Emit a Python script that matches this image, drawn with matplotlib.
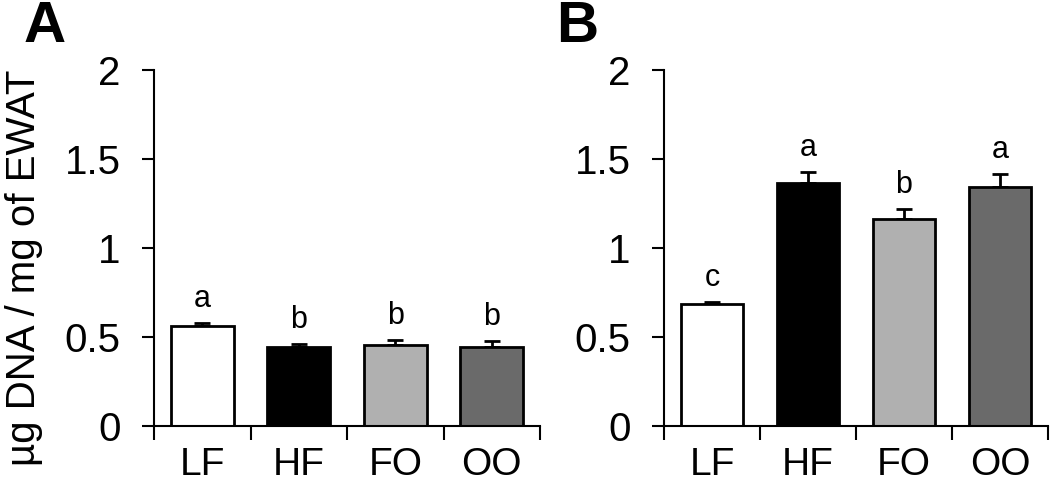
import matplotlib.pyplot as plt

plt.rcParams['font.family'] = ['Liberation Sans', 'DejaVu Sans']

groups = ['LF', 'HF', 'FO', 'OO']
colors = ['#ffffff', '#000000', '#b0b0b0', '#6a6a6a']

# panel A
mean_a = [0.56, 0.444, 0.455, 0.444]
err_a = [0.018, 0.016, 0.028, 0.034]
letters_a = ['a', 'b', 'b', 'b']

# panel B
mean_b = [0.685, 1.365, 1.163, 1.343]
err_b = [0.012, 0.062, 0.056, 0.073]
letters_b = ['c', 'a', 'b', 'a']

fig = plt.figure(figsize=(10.5, 4.83), dpi=100)
ax1 = fig.add_axes([0.1467, 0.118, 0.3676, 0.737])
ax2 = fig.add_axes([0.6324, 0.118, 0.3657, 0.737])


def draw(ax, means, errs, letters):
    x = list(range(len(groups)))
    ax.bar(x, means, width=0.65, color=colors, edgecolor='black', linewidth=2, zorder=2)
    ax.errorbar(x, means, yerr=[[0] * len(errs), errs], fmt='none', ecolor='black',
                elinewidth=2, capsize=6, capthick=2, zorder=1)
    for xi, m, e, l in zip(x, means, errs, letters):
        ax.text(xi, m + e + 0.09, l, ha='center', va='baseline', fontsize=22)
    ax.set_xlim(-0.5, 3.5)
    ax.set_ylim(0, 2)
    ax.set_yticks([0, 0.5, 1, 1.5, 2])
    ax.set_yticklabels(['0', '0.5', '1', '1.5', '2'], fontsize=29)
    ax.set_xticks(x)
    ax.set_xticklabels(groups, fontsize=28)
    ax.tick_params(axis='x', which='major', length=0, pad=15)
    ax.set_xticks([-0.5, 0.5, 1.5, 2.5, 3.5], minor=True)
    ax.tick_params(axis='x', which='minor', length=10, width=1.5, direction='out')
    ax.tick_params(axis='y', length=9, width=1.5, pad=15)
    for s in ['top', 'right']:
        ax.spines[s].set_visible(False)
    ax.spines['left'].set_linewidth(1.5)
    ax.spines['bottom'].set_linewidth(1.5)


draw(ax1, mean_a, err_a, letters_a)
draw(ax2, mean_b, err_b, letters_b)

fig.text(0.023, 0.445, 'µg DNA / mg of EWAT', rotation=90, ha='center', va='center', fontsize=29)
fig.text(0.022, 1.0, 'A', fontsize=42, fontweight='bold', ha='left', va='top')
fig.text(0.53, 1.0, 'B', fontsize=42, fontweight='bold', ha='left', va='top')

fig.savefig('out.png', dpi=100)
